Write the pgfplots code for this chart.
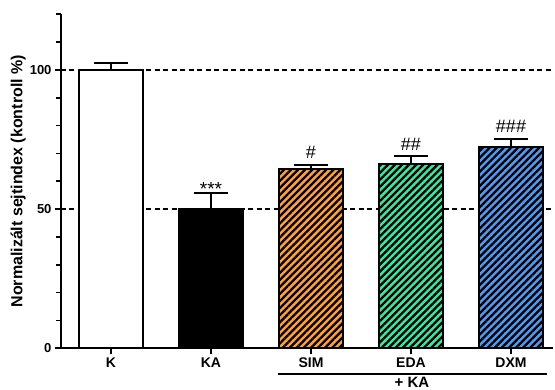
\documentclass[border=0pt]{standalone}
\usepackage{fontspec}
\setmainfont{Liberation Sans}
\usepackage{pgfplots}
\pgfplotsset{compat=1.18}
\usetikzlibrary{patterns.meta}
\definecolor{cOr}{RGB}{255,160,64}
\definecolor{cGr}{RGB}{64,228,160}
\definecolor{cBl}{RGB}{84,152,240}
\tikzset{hatch/.style={preaction={fill=#1},preaction={pattern={Lines[angle=45,distance=5pt,line width=2.3pt]},pattern color=black}}}
\begin{document}
\begin{tikzpicture}
\begin{axis}[
  scale only axis,
  width=492pt, height=334pt,
  xmin=-0.5, xmax=4.42, ymin=0, ymax=120,
  axis x line*=bottom, axis y line*=left,
  axis line style={line width=2pt},
  xtick={0,1,2,3,4},
  xticklabels={K,KA,SIM,EDA,DXM},
  ytick={0,50,100},
  minor ytick={10,20,30,40,60,70,80,90,110,120},
  tick align=outside,
  major tick length=6pt, minor tick length=5pt,
  every tick/.style={black, line width=1.6pt},
  /pgf/number format/assume math mode=true,
  yticklabel style={font=\fontsize{13}{15}\selectfont\bfseries},
  xticklabel style={font=\fontsize{14}{16}\selectfont\bfseries},
  ylabel={Normalizált sejtindex (kontroll \%)},
  ylabel style={font=\fontsize{16}{18}\selectfont\bfseries, at={(axis description cs:-0.087,0.5)}, anchor=center},
  clip=false,
  error bars/y dir=plus, error bars/y explicit,
  error bars/error bar style={line width=2pt, black},
  error bars/error mark options={rotate=90, mark size=17pt, line width=2pt, black},
]
\addplot[forget plot, sharp plot, dashed, dash pattern=on 5pt off 3.5pt, line width=1.3pt, black, mark=none] coordinates {(-0.5,100) (4.42,100)};
\addplot[forget plot, sharp plot, dashed, dash pattern=on 5pt off 3.5pt, line width=1.3pt, black, mark=none] coordinates {(-0.5,50) (4.42,50)};
\addplot[ybar, bar width=0.64, bar shift=0pt, draw=black, line width=2.3pt, fill=white] coordinates {(0,100) +- (0,2.4)};
\addplot[ybar, bar width=0.64, bar shift=0pt, draw=black, line width=2.3pt, fill=black] coordinates {(1,50) +- (0,5.7)};
\addplot[ybar, bar width=0.64, bar shift=0pt, draw=black, line width=2.3pt, hatch=cOr] coordinates {(2,64.4) +- (0,1.6)};
\addplot[ybar, bar width=0.64, bar shift=0pt, draw=black, line width=2.3pt, hatch=cGr] coordinates {(3,66.2) +- (0,2.8)};
\addplot[ybar, bar width=0.64, bar shift=0pt, draw=black, line width=2.3pt, hatch=cBl] coordinates {(4,72.4) +- (0,2.8)};
\node[anchor=base, inner sep=0pt, yshift=-2pt, font=\fontsize{19}{21}\selectfont] at (axis cs:1,55.7) {***};
\node[anchor=base, inner sep=0pt, yshift=6pt, font=\fontsize{18}{20}\selectfont] at (axis cs:2,66.0) {\#};
\node[anchor=base, inner sep=0pt, yshift=6pt, font=\fontsize{18}{20}\selectfont] at (axis cs:3,69.0) {\#\#};
\node[anchor=base, inner sep=0pt, yshift=6pt, font=\fontsize{18}{20}\selectfont] at (axis cs:4,75.2) {\#\#\#};
\draw[line width=2pt] (axis cs:1.67,-9.2) -- (axis cs:4.36,-9.2);
\node[anchor=center, font=\fontsize{15}{17}\selectfont\bfseries] at (axis cs:3.01,-12.4) {+ KA};
\end{axis}
\pgfresetboundingbox
\path[use as bounding box] (-61pt,-41.7pt) rectangle (494pt,348.3pt);
\end{tikzpicture}
\end{document}
